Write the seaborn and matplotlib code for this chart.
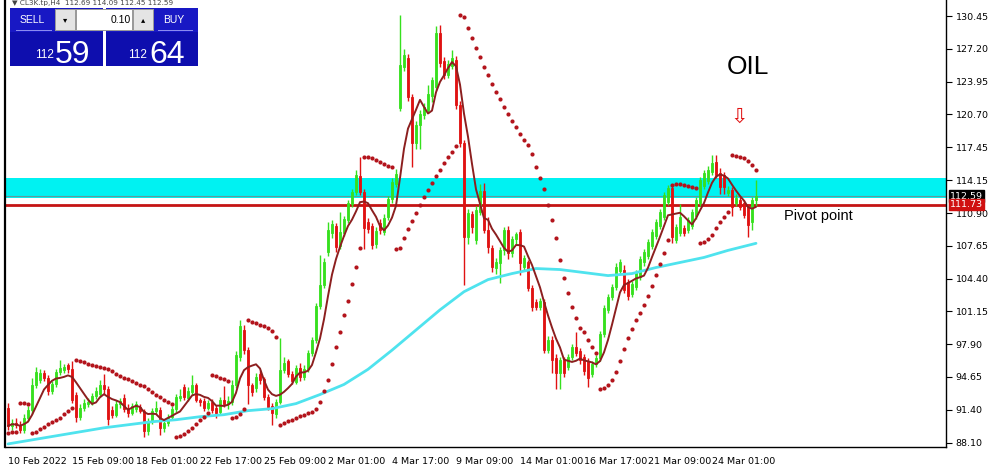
import numpy as np
import pandas as pd
import matplotlib
matplotlib.use("Agg")
import matplotlib.pyplot as plt
from matplotlib.patches import Rectangle
import seaborn as sns

# --- H4 candles (price) ---
opens = [91.6, 89.8, 90.1, 89.9, 89.4, 90.6, 91.4, 93.8, 94.3, 95.0, 94.5, 93.3, 93.9, 95.1, 95.3, 95.8,
         95.4, 92.9, 90.7, 91.6, 92.0, 92.2, 92.8, 93.0, 93.8, 93.4, 91.4, 90.9, 92.0, 92.6, 91.6, 91.1,
         91.5, 91.7, 91.3, 89.3, 90.3, 91.3, 91.4, 89.6, 90.1, 90.7, 91.5, 92.6, 93.6, 92.6, 93.2, 93.8,
         92.4, 92.3, 91.6, 92.2, 91.6, 91.2, 92.4, 92.0, 92.2, 93.8, 96.6, 99.3, 97.3, 93.8, 93.5, 94.9,
         94.4, 92.7, 91.8, 91.0, 92.2, 95.3, 96.2, 94.9, 94.1, 95.5, 94.6, 95.4, 97.0, 98.3, 101.7, 103.8,
         107.0, 108.9, 109.6, 107.6, 108.9, 110.2, 111.8, 113.0, 114.6, 113.0, 110.0, 109.6, 107.8, 109.9, 109.0, 110.5,
         112.3, 113.8, 121.3, 125.4, 126.3, 122.4, 117.9, 119.6, 120.6, 121.1, 122.5, 123.4, 128.8, 126.0, 124.6, 125.5,
         126.1, 121.6, 117.9, 108.5, 110.8, 108.2, 111.0, 113.1, 109.2, 107.4, 105.5, 105.9, 107.2, 109.2, 106.9, 108.3,
         109.0, 105.6, 106.0, 103.5, 102.1, 101.6, 102.1, 97.3, 98.3, 96.5, 95.0, 96.3, 95.6, 96.6, 97.6, 97.2,
         96.6, 96.2, 94.9, 95.9, 96.5, 98.9, 101.3, 102.6, 103.6, 105.2, 105.3, 104.1, 102.9, 103.6, 104.6, 106.0,
         106.6, 107.6, 108.6, 109.6, 110.5, 112.0, 113.4, 108.2, 108.9, 109.4, 109.2, 109.6, 110.6, 111.9, 113.6, 114.1,
         115.0, 116.0, 114.9, 114.7, 112.9, 113.2, 111.9, 112.2, 111.9, 111.5, 110.0, 112.2]
highs = [92.1, 90.5, 90.6, 90.3, 91.0, 91.8, 94.5, 95.6, 95.4, 95.3, 94.8, 94.2, 95.4, 96.3, 95.9, 96.0,
         96.2, 93.2, 92.0, 92.5, 92.6, 93.1, 93.6, 94.3, 94.9, 93.7, 91.8, 92.4, 92.6, 93.0, 92.0, 92.1,
         92.3, 92.0, 91.5, 90.6, 91.6, 92.3, 91.7, 90.4, 91.0, 91.8, 93.0, 93.4, 93.9, 93.6, 94.8, 94.0,
         92.6, 92.6, 92.4, 92.5, 91.9, 92.7, 93.7, 92.8, 94.3, 97.2, 100.3, 99.8, 97.6, 94.0, 95.0, 95.3,
         94.6, 93.0, 92.1, 92.5, 98.5, 96.6, 96.4, 95.2, 95.8, 96.0, 95.8, 97.3, 98.6, 102.0, 106.7, 106.4,
         110.0, 110.2, 109.9, 111.0, 110.6, 112.2, 113.3, 115.2, 116.5, 113.3, 110.4, 109.9, 109.5, 110.3, 110.8, 112.6,
         114.4, 115.3, 130.6, 127.2, 126.7, 122.7, 120.0, 121.1, 121.8, 123.6, 124.4, 129.5, 129.6, 126.4, 126.1, 127.1,
         126.5, 122.0, 118.2, 111.3, 111.1, 111.6, 113.8, 113.9, 110.5, 107.7, 106.4, 107.5, 109.5, 109.6, 108.6, 109.0,
         109.3, 106.7, 106.2, 103.8, 102.4, 102.5, 102.4, 98.7, 98.7, 96.9, 96.6, 96.6, 96.9, 97.9, 99.1, 97.5,
         96.9, 96.5, 96.2, 96.8, 99.2, 101.8, 102.9, 103.9, 105.9, 106.3, 105.8, 104.4, 104.2, 105.3, 106.6, 107.3,
         108.3, 109.3, 110.3, 111.3, 113.0, 113.7, 113.8, 109.8, 111.8, 109.7, 110.5, 111.3, 112.5, 114.5, 115.2, 115.6,
         116.7, 116.7, 115.4, 115.0, 113.6, 113.5, 112.8, 112.5, 112.2, 111.8, 112.5, 114.2]
lows = [89.4, 89.4, 89.6, 89.1, 89.1, 90.3, 91.0, 93.5, 94.0, 94.2, 92.9, 93.0, 93.6, 94.8, 95.0, 95.0,
        92.1, 90.2, 90.4, 91.3, 91.7, 91.9, 92.5, 92.7, 93.0, 89.9, 90.6, 90.7, 91.6, 91.2, 90.7, 90.9,
        91.2, 91.1, 88.7, 88.9, 90.0, 91.0, 88.9, 89.2, 89.8, 90.4, 91.2, 92.3, 92.4, 92.3, 92.9, 92.2,
        91.8, 91.3, 91.4, 91.1, 90.6, 90.9, 91.7, 91.5, 91.9, 93.5, 96.2, 96.9, 92.0, 92.8, 93.2, 93.9,
        92.4, 91.4, 89.9, 90.6, 92.0, 95.0, 94.6, 93.9, 93.9, 94.2, 94.3, 95.1, 96.7, 98.0, 101.4, 103.5,
        106.6, 108.4, 107.0, 107.3, 108.6, 109.9, 111.5, 112.7, 112.7, 107.3, 108.9, 107.3, 107.4, 108.8, 108.7, 110.2,
        111.9, 113.5, 121.0, 125.0, 122.0, 115.5, 117.3, 117.3, 120.2, 120.8, 121.9, 123.1, 125.4, 124.2, 124.3, 125.2,
        121.2, 117.5, 103.8, 107.8, 108.9, 107.8, 110.7, 108.9, 106.9, 105.1, 104.9, 104.0, 106.7, 106.3, 106.5, 107.7,
        104.8, 105.2, 103.2, 101.2, 101.3, 101.3, 97.0, 97.0, 95.0, 93.4, 93.4, 94.6, 95.3, 96.3, 96.7, 95.9,
        94.8, 93.6, 94.6, 95.6, 96.2, 98.6, 101.0, 102.3, 103.3, 104.9, 103.0, 102.3, 102.6, 103.3, 104.3, 105.7,
        106.3, 107.3, 108.3, 109.3, 110.2, 111.7, 107.9, 107.9, 108.6, 108.6, 108.9, 109.3, 110.3, 111.6, 113.3, 113.8,
        114.7, 114.4, 112.8, 112.8, 112.6, 110.6, 111.6, 111.2, 110.4, 108.5, 109.2, 111.6]
closes = [89.8, 90.1, 89.9, 89.4, 90.6, 91.4, 93.8, 95.1, 95.0, 94.5, 93.3, 93.9, 95.1, 95.5, 95.6, 95.4,
          92.4, 90.7, 91.6, 92.1, 92.2, 92.8, 93.3, 93.8, 93.4, 90.5, 90.9, 92.0, 92.3, 91.5, 91.1, 91.8,
          92.0, 91.3, 89.3, 90.3, 91.3, 91.6, 89.6, 90.1, 90.6, 91.5, 92.7, 92.8, 92.7, 93.3, 93.8, 92.4,
          92.2, 91.6, 92.1, 91.4, 91.1, 92.4, 92.0, 92.3, 93.8, 96.8, 99.7, 97.3, 93.8, 93.2, 94.6, 94.3,
          92.7, 91.7, 91.1, 92.2, 95.3, 96.0, 94.9, 94.2, 95.5, 94.6, 95.4, 97.0, 98.3, 101.7, 103.8, 106.0,
          109.2, 109.8, 107.5, 109.0, 110.3, 111.9, 113.0, 114.7, 113.0, 109.4, 109.3, 107.7, 109.1, 109.2, 110.4, 112.3,
          114.0, 114.8, 125.6, 126.6, 122.4, 117.9, 119.6, 120.7, 121.4, 122.7, 124.1, 128.8, 125.8, 124.6, 125.7, 126.3,
          121.6, 117.9, 108.5, 110.9, 109.5, 111.2, 113.1, 109.2, 107.5, 105.6, 106.0, 107.2, 109.2, 106.9, 108.3, 108.8,
          105.9, 106.4, 103.5, 101.6, 101.6, 102.2, 97.3, 98.3, 96.3, 95.0, 96.3, 95.0, 96.6, 97.6, 97.0, 96.3,
          95.2, 94.5, 95.9, 96.5, 98.9, 101.5, 102.6, 103.6, 105.6, 106.0, 103.3, 102.7, 103.9, 105.0, 106.3, 107.0,
          108.0, 109.0, 110.0, 111.0, 112.7, 113.4, 108.5, 109.5, 110.5, 108.9, 110.2, 111.0, 112.2, 114.2, 114.9, 115.2,
          115.9, 114.7, 113.5, 113.5, 113.2, 111.5, 112.4, 111.5, 110.7, 109.7, 112.2, 112.6]

# long moving average (cyan), read every 6 bars
slow_ma_bar = [0, 6, 12, 18, 24, 30, 36, 42, 48, 54, 60, 66, 72, 78, 84, 90, 96, 102, 108, 114,
               120, 126, 132, 138, 144, 150, 156, 162, 168, 174, 180, 186, 187]
slow_ma = [88.0, 88.4, 88.8, 89.2, 89.6, 89.9, 90.2, 90.4, 90.7, 90.9, 91.3, 91.5, 92.0, 92.9, 93.9,
           95.4, 97.3, 99.3, 101.3, 103.1, 104.3, 104.9, 105.4, 105.3, 105.0, 104.7, 104.9, 105.5,
           106.0, 106.5, 107.2, 107.8, 107.9]

date_bars = [0, 16, 32, 48, 64, 80, 96, 112, 128, 144, 160, 176]
date_labels = ["10 Feb 2022", "15 Feb 09:00", "18 Feb 01:00", "22 Feb 17:00", "25 Feb 09:00",
               "2 Mar 01:00", "4 Mar 17:00", "9 Mar 09:00", "14 Mar 01:00", "16 Mar 17:00",
               "21 Mar 09:00", "24 Mar 01:00"]
price_ticks = [130.45, 127.20, 123.95, 120.70, 117.45, 114.15, 110.90, 107.65, 104.40,
               101.15, 97.90, 94.65, 91.40, 88.10]

zone_low, zone_high = 112.4, 114.4
pivot = 111.73
bid = 112.59


def parabolic_sar(hi, lo, step=0.02, max_af=0.2):
    sar = np.zeros(len(hi))
    bull = True
    af = step
    ep = hi[0]
    sar[0] = lo[0] - 0.3
    for i in range(1, len(hi)):
        s = sar[i - 1] + af * (ep - sar[i - 1])
        if bull:
            s = min(s, lo[i - 1], lo[max(i - 2, 0)])
            if lo[i] < s:
                bull, s, ep, af = False, ep, lo[i], step
            elif hi[i] > ep:
                ep, af = hi[i], min(af + step, max_af)
        else:
            s = max(s, hi[i - 1], hi[max(i - 2, 0)])
            if hi[i] > s:
                bull, s, ep, af = True, ep, hi[i], step
            elif lo[i] < ep:
                ep, af = lo[i], min(af + step, max_af)
        sar[i] = s
    return sar


df = pd.DataFrame({"open": opens, "high": highs, "low": lows, "close": closes})
df["bar"] = np.arange(len(df))
df["ma"] = df["close"].rolling(6, min_periods=1).mean()
df["sar"] = parabolic_sar(df["high"].values, df["low"].values)
slow = pd.DataFrame({"bar": slow_ma_bar, "ma": slow_ma})

sns.set_style("white")
plt.rcParams["font.family"] = ["DejaVu Sans"]

W, H = 996, 467
fig = plt.figure(figsize=(W / 100, H / 100), dpi=100)
ax = fig.add_axes([5 / W, 20 / H, 941 / W, 447 / H])
ax.set_xlim(-0.75, 234.5)
ax.set_ylim(87.695, 132.04)

# support zone and pivot
ax.axhspan(zone_low, zone_high, color="#00f2f2", lw=0, zorder=0.5)
ax.axhline(bid, color="#5f9c9c", lw=0.8, zorder=1.2)
ax.axhline(pivot, color="#c41414", lw=2, zorder=1.1)

# candles
up = df["close"] >= df["open"]
colors = np.where(up, "#36e01e", "#e01212")
ax.vlines(df["bar"], df["low"], df["high"], colors=colors, lw=1, zorder=2)
body_low = np.minimum(df["open"], df["close"])
body_h = np.maximum((df["close"] - df["open"]).abs(), 0.1)
ax.bar(df["bar"], body_h, bottom=body_low, width=0.62, color=colors, edgecolor=colors,
       lw=0.6, zorder=2.1)

# indicators
sns.lineplot(data=slow, x="bar", y="ma", ax=ax, color="#4fe3ee", lw=2, zorder=3)
sns.lineplot(data=df, x="bar", y="ma", ax=ax, color="#8c1f1f", lw=1.4, zorder=3.1)
sns.scatterplot(data=df, x="bar", y="sar", ax=ax, color="#b3141c", s=9, lw=0,
                marker="o", zorder=4)

# axes styling like the terminal
ax.set_xlabel("")
ax.set_ylabel("")
ax.yaxis.tick_right()
ax.set_yticks(price_ticks)
ax.set_yticklabels([f"{t:.2f}" for t in price_ticks])
ax.set_xticks(date_bars)
ax.set_xticklabels(date_labels, ha="left")
ax.tick_params(axis="y", length=4, width=0.8, pad=3, labelsize=6.8, colors="black")
ax.tick_params(axis="x", length=4, width=0.8, pad=3, labelsize=6.8, colors="black")
ax.spines["top"].set_visible(False)
for side in ["right", "bottom", "left"]:
    ax.spines[side].set_color("black")
    ax.spines[side].set_linewidth(1)
ax.spines["left"].set_linewidth(1.6)

# price tags on the right axis
ax.annotate(f"{bid:.2f}", xy=(1.004, bid), xycoords=("axes fraction", "data"),
            va="center", ha="left", fontsize=6.8, color="white",
            bbox=dict(boxstyle="square,pad=0.12", fc="black", ec="black"), annotation_clip=False)
ax.annotate(f"{pivot:.2f}", xy=(1.004, pivot), xycoords=("axes fraction", "data"),
            va="center", ha="left", fontsize=6.8, color="white",
            bbox=dict(boxstyle="square,pad=0.12", fc="#d01010", ec="#d01010"), annotation_clip=False)


def fx(x):
    return x / W


def fy(y):
    return 1 - y / H


def box(x0, y0, x1, y1, color, z=10):
    fig.add_artist(Rectangle((fx(x0), fy(y1)), (x1 - x0) / W, (y1 - y0) / H,
                             transform=fig.transFigure, fc=color, ec="none", zorder=z))


# header line of the chart window
fig.text(fx(12), fy(0.5), "\u25bc CL3K.tp,H4  112.69 114.09 112.45 112.59", fontsize=5.2,
         color="#444444", va="top", ha="left", zorder=9)

# one-click trading panel
box(10, 8, 103, 66, "#1818c4")
box(106, 8, 198, 66, "#1818c4")
box(10, 32, 103, 66, "#0e0eae", 10.1)
box(106, 32, 198, 66, "#0e0eae", 10.1)
box(55, 9, 154, 31, "#9a9a9a", 11)
box(56, 10, 75, 30, "#e4e4e4", 12)
box(77, 10, 132, 30, "white", 12)
box(134, 10, 153, 30, "#e4e4e4", 12)
box(16, 30, 52, 31, "#8c8cf0", 12)
box(158, 30, 193, 31, "#8c8cf0", 12)
fig.text(fx(20), fy(20), "SELL", fontsize=7.5, color="white", va="center", ha="left",
         family="Liberation Sans", zorder=13)
fig.text(fx(163), fy(20), "BUY", fontsize=7.5, color="white", va="center", ha="left",
         family="Liberation Sans", zorder=13)
fig.text(fx(131), fy(20), "0.10", fontsize=7.5, color="black", va="center", ha="right",
         family="Liberation Sans", zorder=13)
fig.text(fx(65.5), fy(20), "\u25be", fontsize=6, color="black", va="center", ha="center", zorder=13)
fig.text(fx(143.5), fy(20), "\u25b4", fontsize=6, color="black", va="center", ha="center", zorder=13)
fig.text(fx(35), fy(58), "112", fontsize=8.5, color="white", va="baseline", ha="left",
         family="Liberation Sans", zorder=13)
fig.text(fx(55), fy(63), "59", fontsize=23, color="white", va="baseline", ha="left",
         family="Liberation Sans", zorder=13)
fig.text(fx(128), fy(58), "112", fontsize=8.5, color="white", va="baseline", ha="left",
         family="Liberation Sans", zorder=13)
fig.text(fx(149), fy(63), "64", fontsize=23, color="white", va="baseline", ha="left",
         family="Liberation Sans", zorder=13)

# annotations
fig.text(fx(748), fy(67), "OIL", fontsize=19, color="black", va="center", ha="center",
         family="Liberation Sans")
fig.text(fx(739), fy(117), "\u21e9", fontsize=15, color="#e01010", va="center", ha="center",
         family="DejaVu Sans")
fig.text(fx(784), fy(216), "Pivot point", fontsize=10.5, color="black", va="center", ha="left",
         family="Liberation Sans")

plt.savefig("out.png", dpi=100)
